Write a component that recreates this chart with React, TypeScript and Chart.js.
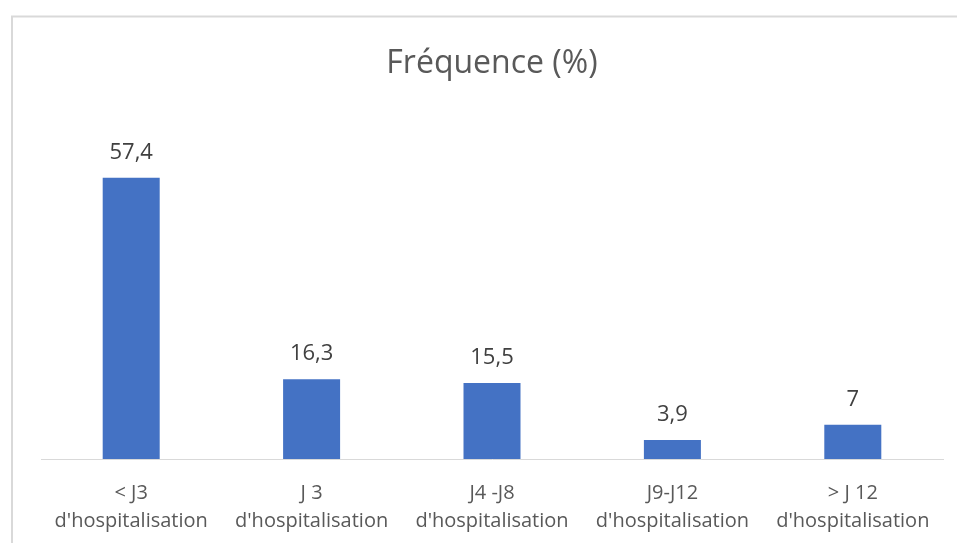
import React, { useEffect, useRef } from "react";
import { Chart, registerables } from "chart.js";

Chart.register(...registerables);

const categories: string[][] = [
  ["< J3", "d'hospitalisation"],
  ["J 3", "d'hospitalisation"],
  ["J4 -J8", "d'hospitalisation"],
  ["J9-J12", "d'hospitalisation"],
  ["> J 12", "d'hospitalisation"],
];
const frequencies: number[] = [57.4, 16.3, 15.5, 3.9, 7];
const chartTitle = "Fréquence (%)";

const FONT = "'Open Sans', 'Noto Sans', sans-serif";

// Light grey frame around the chart
const framePlugin = {
  id: "frame",
  beforeDraw(chart: Chart) {
    const ctx = chart.ctx;
    ctx.save();
    ctx.strokeStyle = "#d9d9d9";
    ctx.lineWidth = 2;
    ctx.strokeRect(12, 16.5, 2000, 2000);
    ctx.restore();
  },
};

// Value labels above each bar, French decimal comma
const valueLabelPlugin = {
  id: "valueLabels",
  afterDatasetsDraw(chart: Chart) {
    const ctx = chart.ctx;
    const meta = chart.getDatasetMeta(0);
    const data = chart.data.datasets[0].data as number[];
    ctx.save();
    ctx.font = `22px ${FONT}`;
    ctx.fillStyle = "#404040";
    ctx.textAlign = "center";
    ctx.textBaseline = "middle";
    meta.data.forEach((bar: any, i: number) => {
      const text = String(data[i]).replace(".", ",");
      ctx.fillText(text, bar.x, bar.y - 25);
    });
    ctx.restore();
  },
};

export default function App() {
  const canvasRef = useRef<HTMLCanvasElement | null>(null);

  useEffect(() => {
    if (!canvasRef.current) return;
    const chart = new Chart(canvasRef.current, {
      type: "bar",
      data: {
        labels: categories,
        datasets: [
          {
            data: frequencies,
            backgroundColor: "#4472C4",
            borderWidth: 0,
            categoryPercentage: 0.316,
            barPercentage: 1,
          },
        ],
      },
      options: {
        responsive: false,
        animation: false,
        layout: { padding: { left: 41, right: 14, top: 0, bottom: 0 } },
        plugins: {
          legend: { display: false },
          tooltip: { enabled: false },
          title: {
            display: true,
            text: chartTitle,
            color: "#595959",
            font: { family: FONT, size: 32, weight: "normal" },
            padding: { top: 45, bottom: 32.6 },
          },
        },
        scales: {
          x: {
            grid: { display: false, drawTicks: false },
            border: { display: true, color: "#d9d9d9", width: 1 },
            ticks: {
              color: "#595959",
              font: { family: FONT, size: 20, lineHeight: 1.4 },
              padding: 20,
              maxRotation: 0,
              autoSkip: false,
            },
            afterFit(scale: any) {
              scale.height = 84;
            },
          },
          y: {
            display: false,
            min: 0,
            max: 70,
          },
        },
      },
      plugins: [framePlugin, valueLabelPlugin],
    });
    return () => chart.destroy();
  }, []);

  return (
    <div style={{ position: "fixed", left: 0, top: 0, width: 957, height: 543, background: "#fff" }}>
      <canvas ref={canvasRef} width={957} height={543} style={{ display: "block" }} />
    </div>
  );
}
